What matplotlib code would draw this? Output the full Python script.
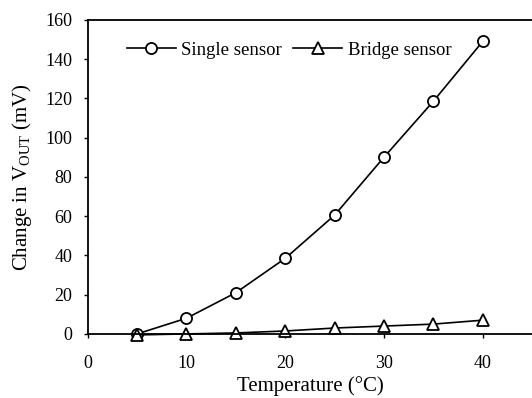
import matplotlib
matplotlib.use("Agg")
import matplotlib.pyplot as plt

plt.rcParams['font.family'] = ['Liberation Serif', 'DejaVu Serif']
plt.rcParams['mathtext.fontset'] = 'custom'
plt.rcParams['mathtext.rm'] = 'Liberation Serif'

temperature = [5, 10, 15, 20, 25, 30, 35, 40]
single_sensor = [0, 8, 21, 38.5, 60.5, 90, 118.5, 149]
bridge_sensor = [-0.5, 0, 0.5, 1.5, 3, 4, 5, 7]

fig = plt.figure(figsize=(5.32, 3.98), dpi=100)
ax = fig.add_axes([0.165, 0.161, 0.835, 0.789])

ax.plot(temperature, single_sensor, color='black', lw=1.2, marker='o', ms=8,
        mfc='white', mec='black', mew=1.3, label='Single sensor', clip_on=False)
ax.plot(temperature, bridge_sensor, color='black', lw=1.2, marker='^', ms=8,
        mfc='white', mec='black', mew=1.3, label='Bridge sensor', clip_on=False)

ax.set_xlim(0, 45)
ax.set_ylim(0, 160)
ax.set_xticks([0, 10, 20, 30, 40])
ax.set_yticks(range(0, 161, 20))
ax.tick_params(labelsize=13, direction='out', length=3, width=1)
ax.tick_params(axis='x', pad=12)
ax.tick_params(axis='y', pad=8)

ax.spines['right'].set_visible(False)
for s in ['left', 'bottom', 'top']:
    ax.spines[s].set_linewidth(1.3)

ax.set_xlabel('Temperature (°C)', fontsize=15, labelpad=3)
ax.set_ylabel(r'Change in V$_{\mathrm{OUT}}$ (mV)', fontsize=15, labelpad=8)

ax.legend(loc='upper left', bbox_to_anchor=(0.05, 0.985), ncol=2, frameon=False,
          fontsize=13.5, handlelength=2.6, columnspacing=0.6, handletextpad=0.3)

fig.savefig('out.png', dpi=100)
